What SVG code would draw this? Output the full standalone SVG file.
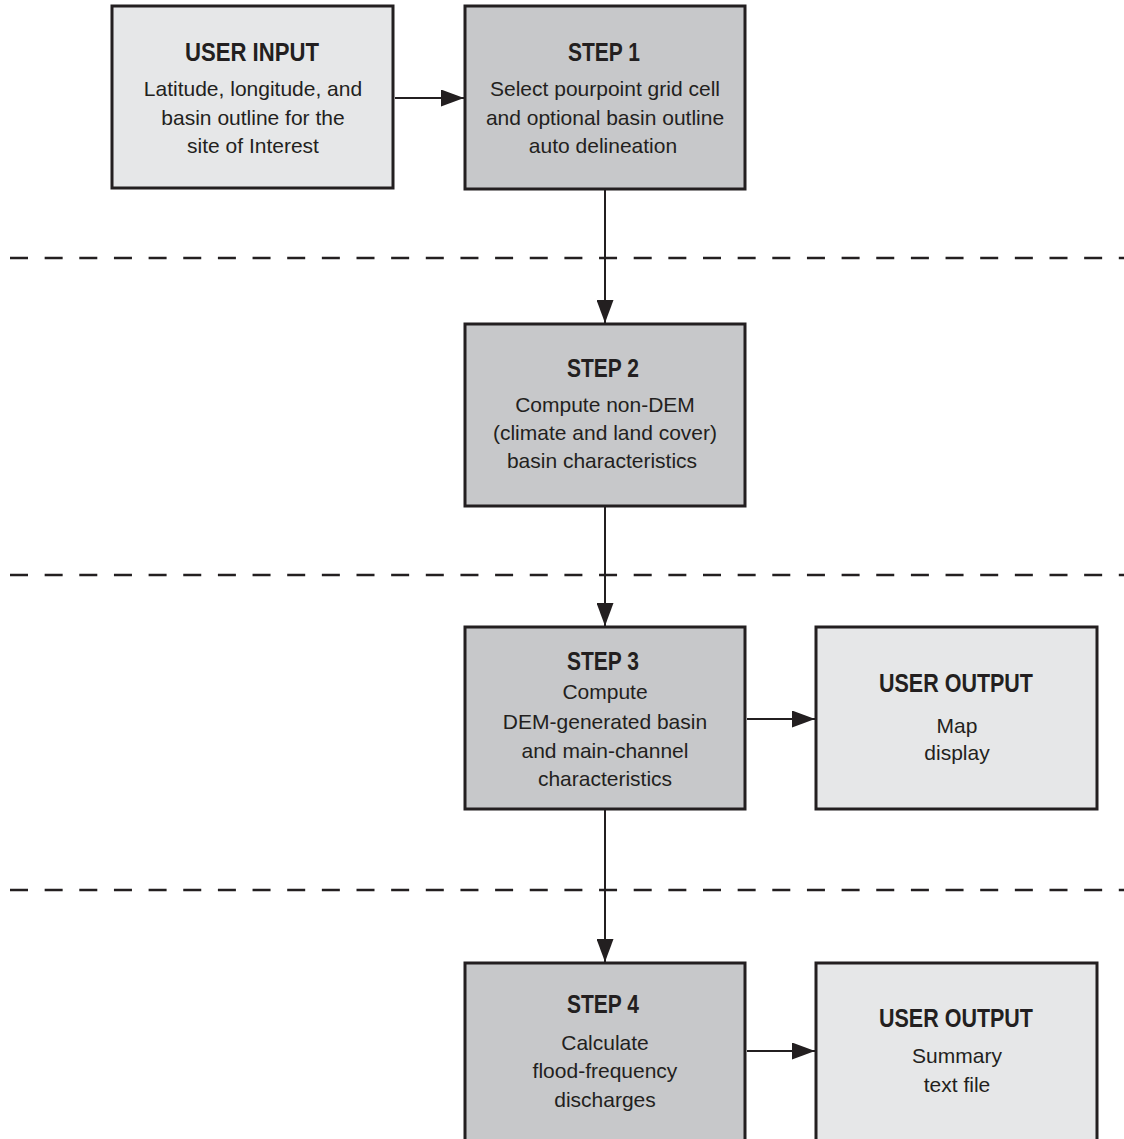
<svg xmlns="http://www.w3.org/2000/svg" width="1124" height="1139" viewBox="0 0 1124 1139">
<style>
.io{fill:#e6e7e8;stroke:#231f20;stroke-width:3}
.st{fill:#c7c8ca;stroke:#231f20;stroke-width:3}
.h{font-family:"Liberation Sans",Arial,sans-serif;font-weight:bold;font-size:25px;fill:#231f20;text-anchor:middle}
.b{font-family:"Liberation Sans",Arial,sans-serif;font-size:21px;fill:#231f20;text-anchor:middle}
.c{stroke:#231f20;stroke-width:2;fill:none}
.d{stroke:#231f20;stroke-width:2.5;stroke-dasharray:18 16.65;fill:none}
</style>
<defs>
<marker id="ah" markerWidth="23" markerHeight="17" refX="23" refY="8.5" orient="auto" markerUnits="userSpaceOnUse">
<path d="M0,0 L23,8.5 L0,17 Z" fill="#231f20"/>
</marker>
</defs>
<rect width="1124" height="1139" fill="#ffffff"/>
<g id="dividers">
<line class="d" x1="10" y1="258" x2="1124" y2="258"/>
<line class="d" x1="10" y1="575" x2="1124" y2="575"/>
<line class="d" x1="10" y1="890" x2="1124" y2="890"/>
</g>
<g id="connectors">
<line class="c" x1="395" y1="98" x2="464" y2="98" marker-end="url(#ah)"/>
<line class="c" x1="605" y1="190" x2="605" y2="323" marker-end="url(#ah)"/>
<line class="c" x1="605" y1="507" x2="605" y2="626" marker-end="url(#ah)"/>
<line class="c" x1="747" y1="719" x2="815" y2="719" marker-end="url(#ah)"/>
<line class="c" x1="605" y1="810" x2="605" y2="962" marker-end="url(#ah)"/>
<line class="c" x1="747" y1="1051" x2="815" y2="1051" marker-end="url(#ah)"/>
</g>
<g id="user-input">
<rect class="io" x="112" y="6" width="281" height="182"/>
<text class="h" x="252" y="61" textLength="134" lengthAdjust="spacingAndGlyphs">USER INPUT</text>
<text class="b" x="253" y="96">Latitude, longitude, and</text>
<text class="b" x="253" y="125">basin outline for the</text>
<text class="b" x="253" y="153">site of Interest</text>
</g>
<g id="step1">
<rect class="st" x="465" y="6" width="280" height="183"/>
<text class="h" x="604" y="61" textLength="72" lengthAdjust="spacingAndGlyphs">STEP 1</text>
<text class="b" x="605" y="96">Select pourpoint grid cell</text>
<text class="b" x="605" y="125">and optional basin outline</text>
<text class="b" x="603" y="153">auto delineation</text>
</g>
<g id="step2">
<rect class="st" x="465" y="324" width="280" height="182"/>
<text class="h" x="603" y="377" textLength="72" lengthAdjust="spacingAndGlyphs">STEP 2</text>
<text class="b" x="605" y="412">Compute non-DEM</text>
<text class="b" x="605" y="440">(climate and land cover)</text>
<text class="b" x="602" y="468">basin characteristics</text>
</g>
<g id="step3">
<rect class="st" x="465" y="627" width="280" height="182"/>
<text class="h" x="603" y="670" textLength="72" lengthAdjust="spacingAndGlyphs">STEP 3</text>
<text class="b" x="605" y="699">Compute</text>
<text class="b" x="605" y="729">DEM-generated basin</text>
<text class="b" x="605" y="758">and main-channel</text>
<text class="b" x="605" y="786">characteristics</text>
</g>
<g id="user-output-map">
<rect class="io" x="816" y="627" width="281" height="182"/>
<text class="h" x="956" y="692" textLength="154" lengthAdjust="spacingAndGlyphs">USER OUTPUT</text>
<text class="b" x="957" y="733">Map</text>
<text class="b" x="957" y="760">display</text>
</g>
<g id="step4">
<rect class="st" x="465" y="963" width="280" height="190"/>
<text class="h" x="603" y="1013" textLength="72" lengthAdjust="spacingAndGlyphs">STEP 4</text>
<text class="b" x="605" y="1050">Calculate</text>
<text class="b" x="605" y="1078">flood-frequency</text>
<text class="b" x="605" y="1107">discharges</text>
</g>
<g id="user-output-summary">
<rect class="io" x="816" y="963" width="281" height="190"/>
<text class="h" x="956" y="1027" textLength="154" lengthAdjust="spacingAndGlyphs">USER OUTPUT</text>
<text class="b" x="957" y="1063">Summary</text>
<text class="b" x="957" y="1092">text file</text>
</g>
</svg>
